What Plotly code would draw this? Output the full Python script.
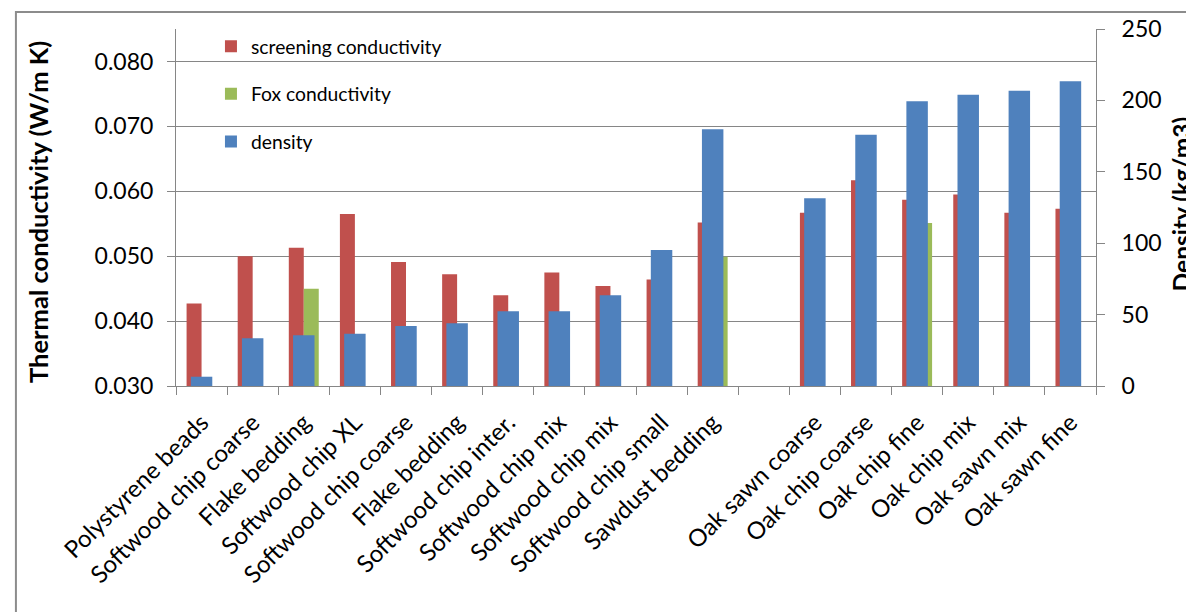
import plotly.graph_objects as go

categories = ["Polystyrene beads", "Softwood chip coarse", "Flake bedding", "Softwood chip XL",
              "Softwood chip coarse", "Flake bedding", "Softwood chip inter.", "Softwood chip mix",
              "Softwood chip mix", "Softwood chip small", "Sawdust bedding", "",
              "Oak sawn coarse", "Oak chip coarse", "Oak chip fine", "Oak chip mix",
              "Oak sawn mix", "Oak sawn fine"]
screening = [0.0427, 0.0500, 0.0513, 0.0565, 0.0491, 0.0472, 0.0440, 0.0475, 0.0454, 0.0464, 0.0552,
             None, 0.0567, 0.0617, 0.0587, 0.0595, 0.0567, 0.0573]
fox = [None, None, 0.0450, None, None, None, None, None, None, None, 0.0499,
       None, None, None, 0.0551, None, None, None]
density = [6.5, 33.4, 35.5, 36.6, 42.0, 43.9, 52.3, 52.3, 63.5, 95.2, 179.8,
           None, 131.4, 176.0, 199.4, 204.0, 206.8, 213.4]
left_ticks = [0.03, 0.04, 0.05, 0.06, 0.07, 0.08]
right_ticks = [0, 50, 100, 150, 200, 250]

xs = list(range(len(categories)))
FONT = "Lato"
GRID = "#868686"

fig = go.Figure()
fig.add_trace(go.Bar(x=xs, y=screening, name="screening conductivity", marker_color="#C0504D",
                     offset=-0.293, width=0.293, legendgroup="a", marker_line_width=0))
fig.add_trace(go.Bar(x=xs, y=fox, name="Fox conductivity", marker_color="#9BBB59",
                     offset=0.0, width=0.293, legendgroup="b", marker_line_width=0))
fig.add_trace(go.Bar(x=xs, y=density, name="density", marker_color="#4F81BD", yaxis="y2",
                     offset=-0.21, width=0.42, legendgroup="c", marker_line_width=0))

fig.update_layout(
    width=1186, height=612,
    margin=dict(l=176, r=90, t=29, b=226, autoexpand=False),
    paper_bgcolor="white", plot_bgcolor="white",
    barmode="overlay",
    font=dict(family=FONT, color="black"),
    showlegend=True,
    legend=dict(x=0.038, y=1.005, xanchor="left", yanchor="top", bgcolor="rgba(0,0,0,0)",
                font=dict(size=19.3, family=FONT), tracegroupgap=19.5, traceorder="grouped"),
    xaxis=dict(range=[-0.5, len(categories) - 0.5], tickmode="array", tickvals=xs, ticktext=categories,
               tickangle=-45, ticks="", showgrid=False, zeroline=False,
               showline=True, linecolor=GRID, linewidth=1, ticklabelstandoff=12,
               tickfont=dict(size=24, family=FONT), automargin=False,
               minor=dict(tick0=-0.5, dtick=1, ticks="outside", ticklen=8, tickcolor=GRID, showgrid=False)),
    yaxis=dict(range=[0.03, 0.085], tickmode="array", tickvals=left_ticks, tickformat=".3f",
               showgrid=True, gridcolor=GRID, gridwidth=1, zeroline=False,
               showline=True, linecolor=GRID, linewidth=1, ticks="outside", ticklen=8, tickcolor=GRID,
               ticklabelstandoff=9,
               tickfont=dict(size=23, family=FONT), automargin=False),
    yaxis2=dict(range=[0, 250], tickmode="array", tickvals=right_ticks, overlaying="y", side="right",
                showgrid=False, zeroline=False, showline=True, linecolor=GRID, linewidth=1,
                ticks="outside", ticklen=8, tickcolor=GRID, ticklabelstandoff=12,
                tickfont=dict(size=23, family=FONT), automargin=False),
    shapes=[dict(type="rect", xref="paper", yref="paper", x0=-0.174, x1=1.2, y0=-0.7, y1=1.0476,
                 line=dict(color="#8c8c8c", width=2), fillcolor="rgba(0,0,0,0)", layer="below")],
    annotations=[
        dict(text="<b>Thermal conductivity (W/m K)</b>", xref="paper", yref="paper",
             x=-0.1495, y=0.4888, textangle=-90, showarrow=False, xanchor="center", yanchor="middle",
             font=dict(size=25.5, family=FONT)),
        dict(text="<b>Density (kg/m3)</b>", xref="paper", yref="paper",
             x=1.0929, y=0.51, textangle=-90, showarrow=False, xanchor="center", yanchor="middle",
             font=dict(size=24.5, family=FONT)),
    ],
)

fig.write_html("out.html")
